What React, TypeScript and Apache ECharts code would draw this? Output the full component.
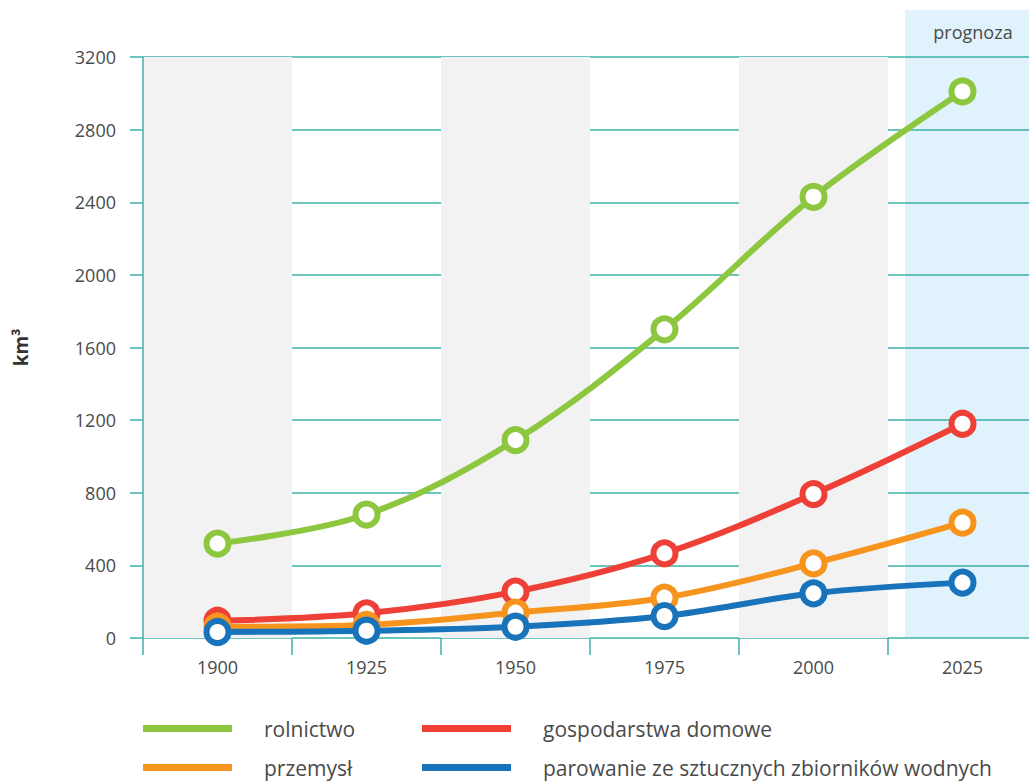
import React, { useEffect, useRef } from "react";
import * as echarts from "echarts";

const years = ["1900", "1925", "1950", "1975", "2000", "2025"];
const rolnictwo = [520, 680, 1090, 1700, 2430, 3010];
const gospodarstwa = [95, 136, 255, 466, 793, 1180];
const przemysl = [62, 72, 140, 222, 411, 635];
const parowanie = [33, 40, 62, 121, 246, 305];

const yTicks = { min: 0, max: 3200, interval: 400 };

const TEAL = "#3db3a7";
const FONT = "Open Sans";
const TEXT = "#4a4a4a";

const seriesDefs = [
  { name: "rolnictwo", data: rolnictwo, color: "#8dc63f" },
  { name: "gospodarstwa domowe", data: gospodarstwa, color: "#ee4036" },
  { name: "przemysł", data: przemysl, color: "#f7941d" },
  { name: "parowanie ze sztucznych zbiorników wodnych", data: parowanie, color: "#1873bb" },
];

// legend layout: [series index, left, top]
const legendSlots: [number, number, number][] = [
  [0, 143, 718],
  [2, 143, 757],
  [1, 422, 718],
  [3, 422, 757],
];

export default function App() {
  const ref = useRef<HTMLDivElement>(null);
  useEffect(() => {
    if (!ref.current) return;
    const chart = echarts.init(ref.current, undefined, { renderer: "svg" });
    chart.setOption({
      animation: false,
      backgroundColor: "#ffffff",
      grid: {
        left: 143,
        top: 57,
        bottom: 143,
        width: 894,
        outerBoundsMode: "none",
        containLabel: false,
      },
      graphic: [
        {
          type: "rect",
          z: -1,
          shape: { x: 905, y: 10, width: 124, height: 628 },
          style: { fill: "#e0f2fc" },
        },
        {
          type: "text",
          z: 10,
          x: 973,
          y: 32,
          style: {
            text: "prognoza",
            fontFamily: FONT,
            fontSize: 18,
            fill: TEXT,
            align: "center",
            verticalAlign: "middle",
          },
        },
      ],
      legend: legendSlots.map(([i, left, top]) => ({
        orient: "horizontal",
        left,
        top,
        padding: 0,
        itemWidth: 89,
        itemHeight: 7,
        icon: "rect",
        selectedMode: false,
        itemStyle: { borderWidth: 0 },
        textStyle: { fontFamily: FONT, fontSize: 21, color: TEXT, padding: [0, 0, 0, 27] },
        data: [{ name: seriesDefs[i].name, itemStyle: { color: seriesDefs[i].color, borderWidth: 0 } }],
      })),
      xAxis: {
        type: "category",
        data: years,
        boundaryGap: true,
        axisLine: { show: false },
        axisTick: { show: true, length: 17, interval: 0, lineStyle: { color: TEAL, width: 1.5 } },
        axisLabel: { fontFamily: FONT, fontSize: 18, color: TEXT, margin: 20 },
        splitLine: { show: false },
        splitArea: {
          show: true,
          interval: 0,
          areaStyle: { color: ["#f2f2f2", "rgba(255,255,255,0)"] },
        },
      },
      yAxis: {
        type: "value",
        min: yTicks.min,
        max: yTicks.max,
        interval: yTicks.interval,
        name: "km³",
        nameLocation: "middle",
        nameRotate: 90,
        nameGap: 113,
        nameTextStyle: { fontFamily: FONT, fontSize: 19, fontWeight: "bold", color: "#333" },
        axisLine: { show: true, lineStyle: { color: TEAL, width: 1.5 } },
        axisTick: { show: true, length: 13, lineStyle: { color: TEAL, width: 1.5 } },
        axisLabel: {
          fontFamily: FONT,
          fontSize: 18,
          color: TEXT,
          margin: 27,
          formatter: (v: number) => String(v),
        },
        splitLine: { show: true, lineStyle: { color: TEAL, width: 1.5 } },
      },
      series: seriesDefs.map((s, i) => ({
        name: s.name,
        type: "line",
        data: s.data,
        smooth: 0.35,
        symbol: "circle",
        symbolSize: 22,
        showSymbol: true,
        z: 3 + i,
        lineStyle: { color: s.color, width: 6 },
        itemStyle: { color: "#ffffff", borderColor: s.color, borderWidth: 6 },
        emphasis: { disabled: true },
      })),
    });
    return () => chart.dispose();
  }, []);
  return (
    <div
      ref={ref}
      style={{ position: "fixed", left: 0, top: 0, width: 1029, height: 781 }}
    />
  );
}
